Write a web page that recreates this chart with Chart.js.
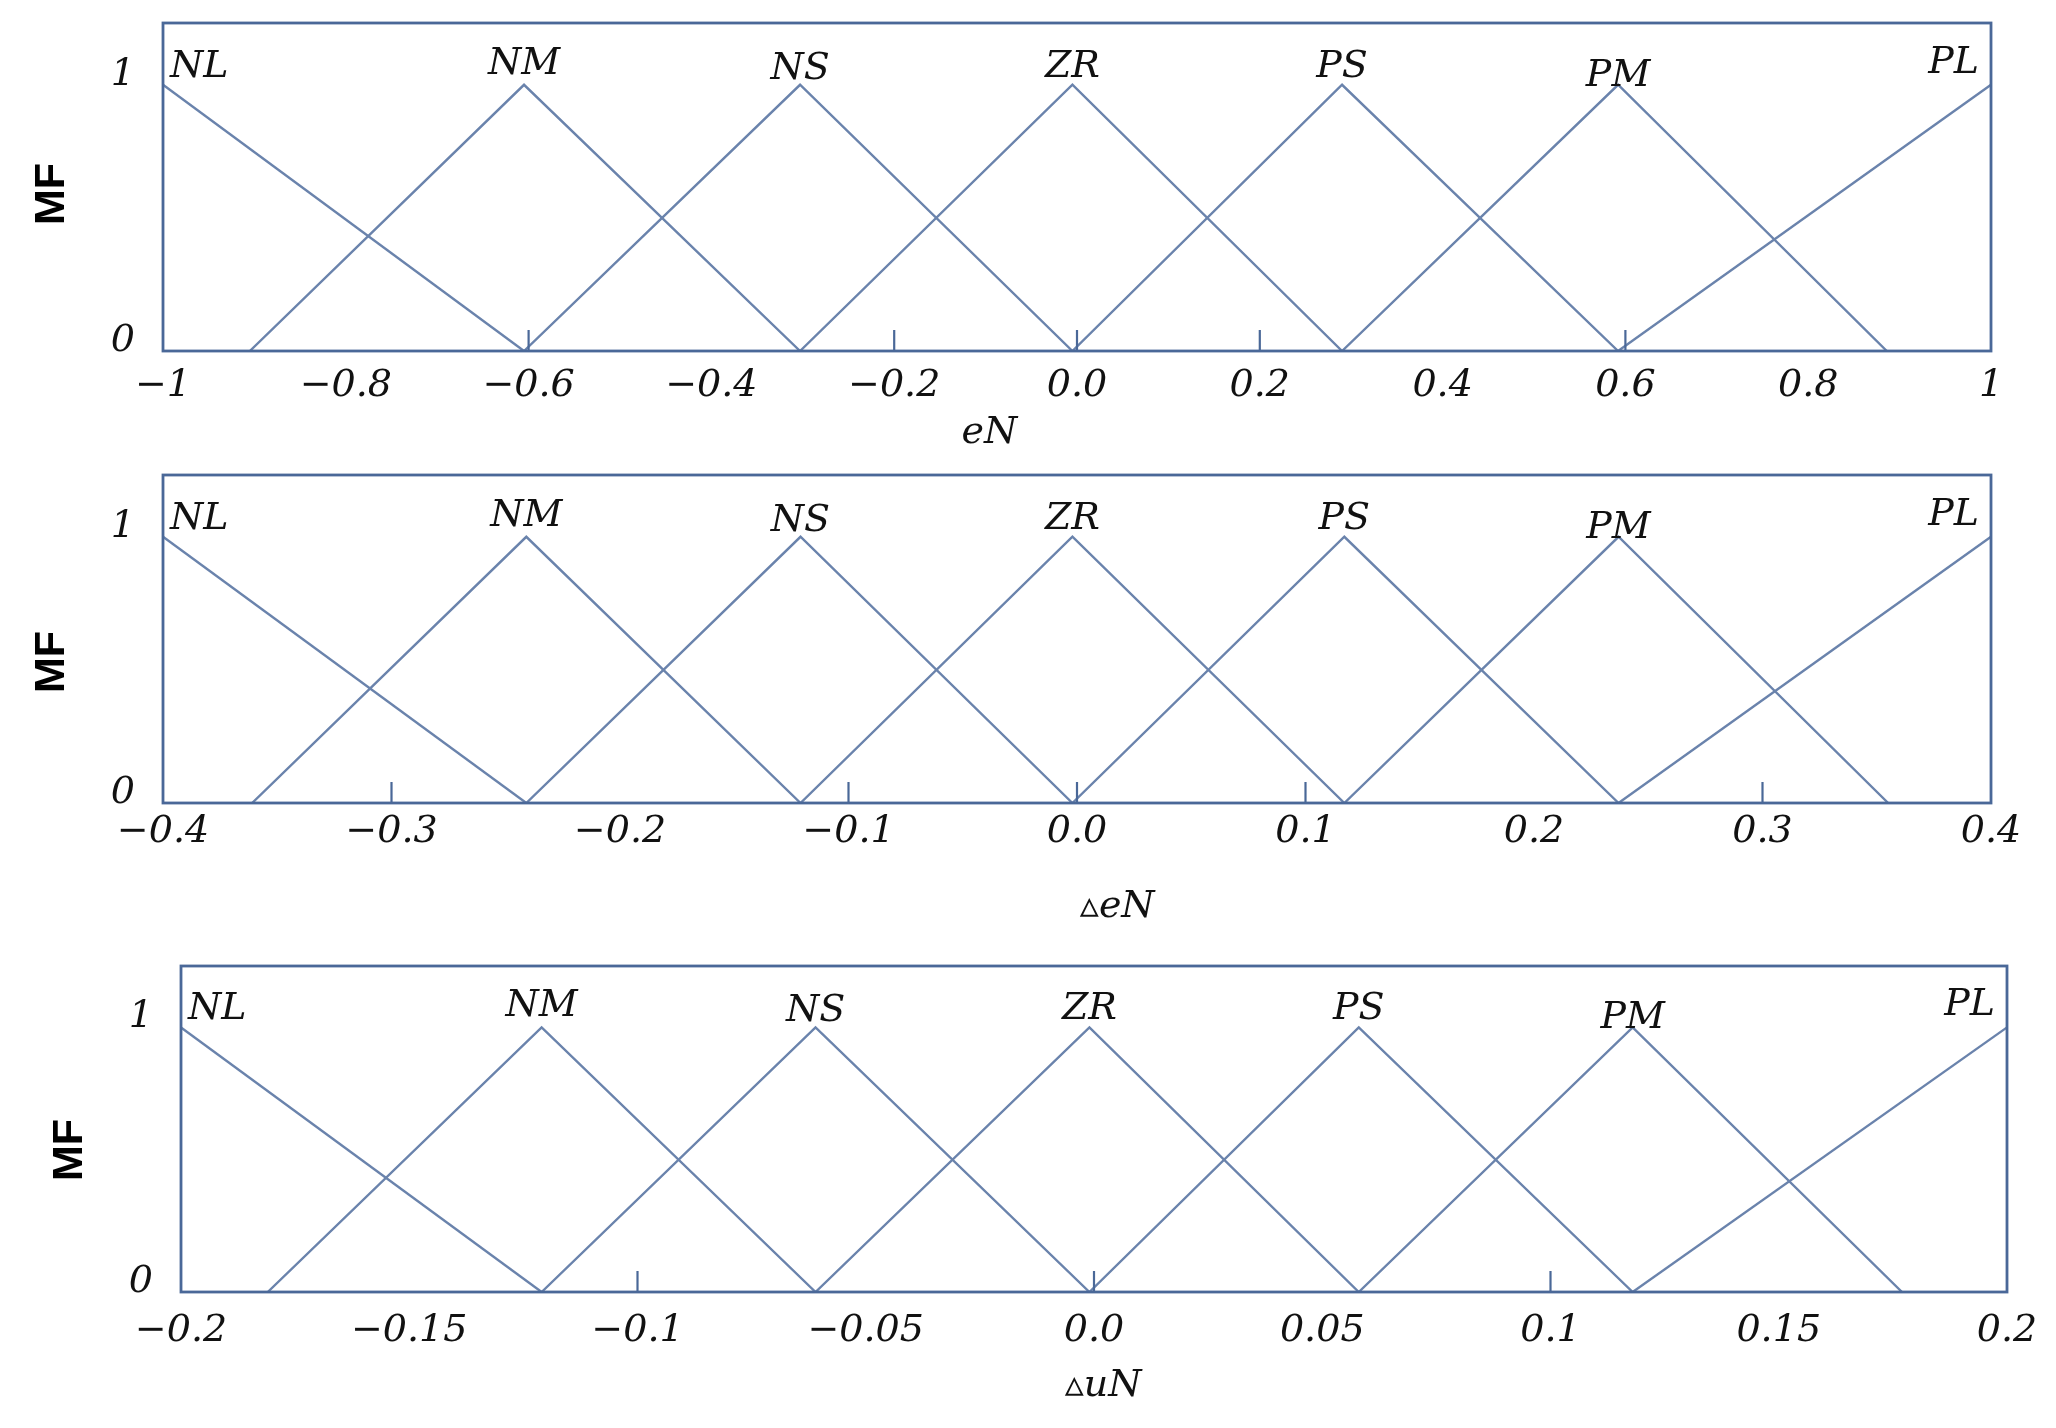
<!DOCTYPE html>
<html><head><meta charset="utf-8">
<script src="https://cdn.jsdelivr.net/npm/chart.js@4.4.1/dist/chart.umd.min.js"></script>
<style>
html,body{margin:0;padding:0;background:#fff;}
#wrap{position:relative;width:2056px;height:1428px;background:#fff;overflow:hidden;}
canvas{position:absolute;left:0;}
</style></head><body>
<div id="wrap">
<canvas id="c1" width="2056" height="460" style="top:0px"></canvas>
<canvas id="c2" width="2056" height="470" style="top:460px"></canvas>
<canvas id="c3" width="2056" height="498" style="top:930px"></canvas>
</div>
<script>
// ---------- data ----------
const setNames = ['NL','NM','NS','ZR','PS','PM','PL'];
const mfLevels = [0, 1];               // grade at the feet, grade at the peak
const yTickValues = [0, 1];
const yTickLabels = ['0', '1'];
const yTitle = 'MF';

// panel 1 : eN   — each set: [left foot, peak, right foot]
const eNSets = [[-1,-1,-0.605],[-0.905,-0.605,-0.303],[-0.605,-0.303,-0.005],[-0.303,-0.005,0.29],[-0.005,0.29,0.592],[0.29,0.592,0.886],[0.592,1,1]];
const eNTickValues = [-1,-0.8,-0.6,-0.4,-0.2,0,0.2,0.4,0.6,0.8,1];
const eNTickLabels = ['\u22121','\u22120.8','\u22120.6','\u22120.4','\u22120.2','0.0','0.2','0.4','0.6','0.8','1'];
const eNTickMarks = [-0.6,-0.2,0,0.2,0.6];
const eNTitle = 'eN';

// panel 2 : ΔeN
const deNSets = [[-0.4,-0.4,-0.241],[-0.361,-0.241,-0.121],[-0.241,-0.121,-0.002],[-0.121,-0.002,0.117],[-0.002,0.117,0.237],[0.117,0.237,0.355],[0.237,0.4,0.4]];
const deNTickValues = [-0.4,-0.3,-0.2,-0.1,0,0.1,0.2,0.3,0.4];
const deNTickLabels = ['\u22120.4','\u22120.3','\u22120.2','\u22120.1','0.0','0.1','0.2','0.3','0.4'];
const deNTickMarks = [-0.3,-0.1,0,0.1,0.3];
const deNTitle = '\u25B5eN';

// panel 3 : ΔuN
const duNSets = [[-0.2,-0.2,-0.121],[-0.181,-0.121,-0.061],[-0.121,-0.061,-0.001],[-0.061,-0.001,0.058],[-0.001,0.058,0.118],[0.058,0.118,0.177],[0.118,0.2,0.2]];
const duNTickValues = [-0.2,-0.15,-0.1,-0.05,0,0.05,0.1,0.15,0.2];
const duNTickLabels = ['\u22120.2','\u22120.15','\u22120.1','\u22120.05','0.0','0.05','0.1','0.15','0.2'];
const duNTickMarks = [-0.1,0,0.1];
const duNTitle = '\u25B5uN';

// ---------- styles ----------
const LINE = '#6a83ac';
const FRAME = '#4a6898';
const TEXT = '#111';
const SERIF = 'italic 38px "DejaVu Serif"';
const labelDy = [0,-3,2,0,0,9,-4];

function setPoints(s){
  const pts = [];
  if (s[0] !== s[1]) pts.push({x:s[0], y:mfLevels[0]});
  pts.push({x:s[1], y:mfLevels[1]});
  if (s[2] !== s[1]) pts.push({x:s[2], y:mfLevels[0]});
  return pts;
}

const decor = {
  id: 'decor',
  afterDatasetsDraw(chart, args, o){
    const ctx = chart.ctx, ca = chart.chartArea, xs = chart.scales.x, ys = chart.scales.y;
    ctx.save();
    // inner tick marks
    ctx.strokeStyle = FRAME; ctx.lineWidth = 2.2;
    o.tickMarks.forEach(v => {
      const px = xs.getPixelForValue(v);
      ctx.beginPath(); ctx.moveTo(px, ca.bottom); ctx.lineTo(px, ca.bottom - 21); ctx.stroke();
    });
    // frame
    ctx.lineWidth = 2.8;
    ctx.strokeRect(ca.left, ca.top, ca.right - ca.left, ca.bottom - ca.top);
    // set labels
    ctx.fillStyle = TEXT; ctx.font = SERIF; ctx.textBaseline = 'alphabetic';
    const y1 = ys.getPixelForValue(mfLevels[1]);
    o.sets.forEach((s, i) => {
      let px = xs.getPixelForValue(s[1]);
      if (i === 0){ ctx.textAlign = 'left'; px += 7; }
      else if (i === o.sets.length - 1){ ctx.textAlign = 'right'; px -= 12; }
      else ctx.textAlign = 'center';
      ctx.fillText(setNames[i], px, y1 - 8 + labelDy[i]);
    });
    // x title
    ctx.textAlign = 'center'; ctx.textBaseline = 'middle';
    ctx.fillText(o.xTitle, ca.left + (ca.right - ca.left) * o.xTitleFrac, ca.bottom + o.xTitleDy);
    // y title
    ctx.font = 'bold 43px "Liberation Sans"';
    ctx.fillStyle = '#000';
    ctx.translate(ca.left - 111, (ca.top + ca.bottom) / 2 + o.yTitleDy);
    ctx.rotate(-Math.PI / 2);
    ctx.fillText(yTitle, 0, 0);
    ctx.restore();
  }
};

function makeChart(id, sets, tickValues, tickLabels, tickMarks, xTitle, lay){
  new Chart(document.getElementById(id), {
    type: 'scatter',
    data: {
      datasets: sets.map((s, i) => ({
        label: setNames[i],
        data: setPoints(s),
        showLine: true, borderColor: LINE, borderWidth: 2.4,
        pointRadius: 0, fill: false, tension: 0
      }))
    },
    options: {
      responsive: false, animation: false, devicePixelRatio: 1,
      layout: { padding: { top: lay.top, right: lay.right, left: 0, bottom: 0 } },
      plugins: {
        legend: { display: false }, tooltip: { enabled: false },
        decor: { sets, tickMarks, xTitle, xTitleFrac: lay.xTitleFrac, xTitleDy: lay.xTitleDy, yTitleDy: lay.yTitleDy }
      },
      scales: {
        x: {
          type: 'linear', min: tickValues[0], max: tickValues[tickValues.length - 1],
          afterBuildTicks: sc => { sc.ticks = tickValues.map(v => ({ value: v })); },
          afterFit: sc => { sc.height = lay.xh; sc.paddingLeft = 0; sc.paddingRight = 0; },
          grid: { display: false, drawTicks: false }, border: { display: false },
          ticks: {
            autoSkip: false, maxRotation: 0, minRotation: 0, padding: lay.xpad,
            color: TEXT, font: { family: 'DejaVu Serif', style: 'italic', size: 38 },
            callback: (v, i) => tickLabels[i]
          }
        },
        y: {
          type: 'linear', min: 0, max: 1.232,
          afterBuildTicks: sc => { sc.ticks = yTickValues.map(v => ({ value: v })); },
          afterFit: sc => { sc.width = lay.left; sc.paddingTop = 0; sc.paddingBottom = 0; },
          grid: { display: false, drawTicks: false }, border: { display: false },
          ticks: {
            padding: 28, labelOffset: -10, color: TEXT,
            font: { family: 'DejaVu Serif', style: 'italic', size: 38 },
            callback: (v, i) => yTickLabels[i]
          }
        }
      }
    },
    plugins: [decor]
  });
}

makeChart('c1', eNSets, eNTickValues, eNTickLabels, eNTickMarks, eNTitle,
  { top: 23, right: 65, left: 163, xh: 109, xpad: 12, xTitleFrac: 0.452, xTitleDy: 82, yTitleDy: 7 });
makeChart('c2', deNSets, deNTickValues, deNTickLabels, deNTickMarks, deNTitle,
  { top: 15, right: 65, left: 163, xh: 127, xpad: 6, xTitleFrac: 0.522, xTitleDy: 104, yTitleDy: 23 });
makeChart('c3', duNSets, duNTickValues, duNTickLabels, duNTickMarks, duNTitle,
  { top: 36, right: 49, left: 181, xh: 136, xpad: 16, xTitleFrac: 0.505, xTitleDy: 94, yTitleDy: 21 });
</script>
</body></html>
